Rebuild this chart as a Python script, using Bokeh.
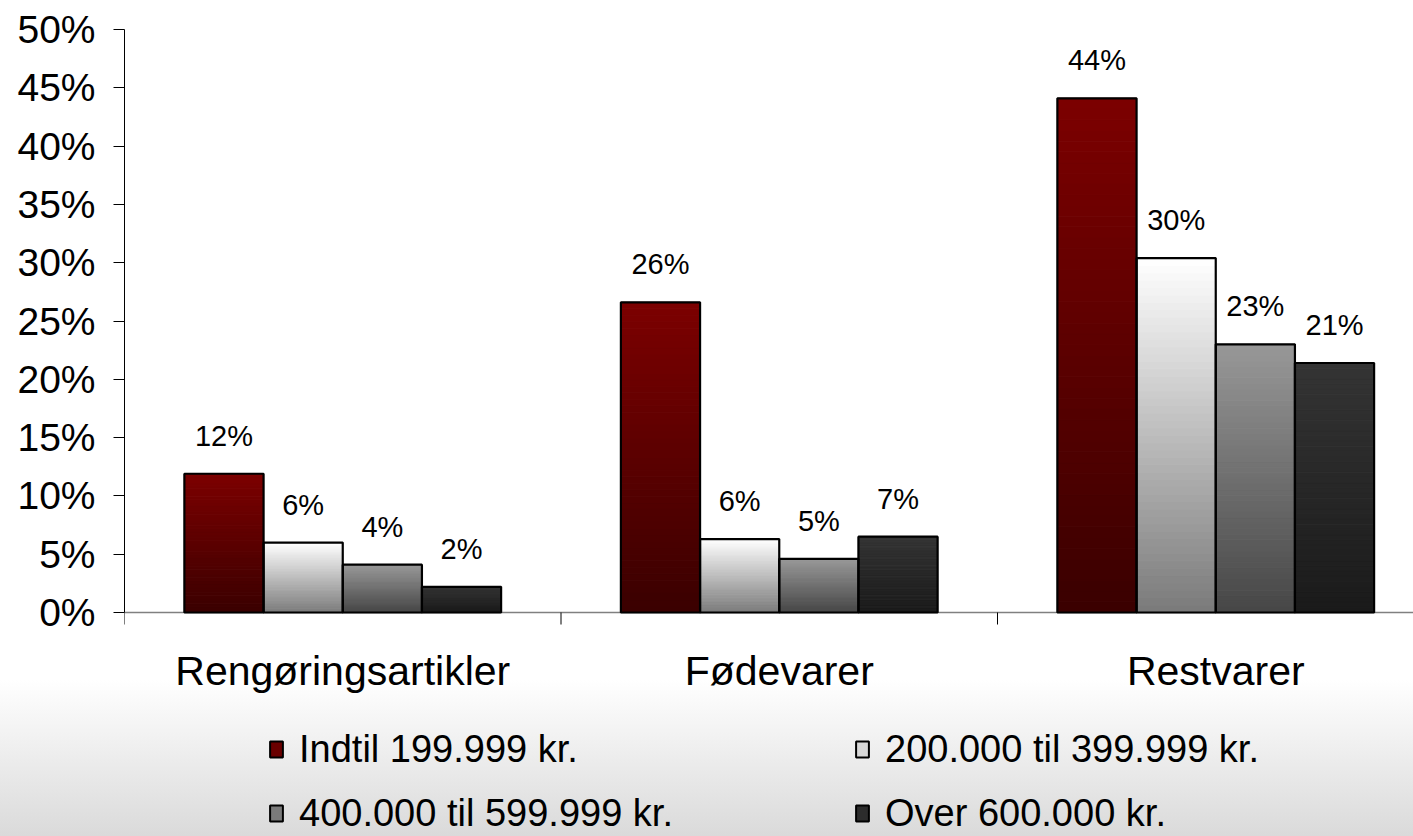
from bokeh.plotting import figure
from bokeh.models import Range1d, FixedTicker, Legend, LegendItem, Span
from bokeh.embed import file_html
from bokeh.resources import INLINE
from bokeh.core.properties import value

# ---------------- data ----------------
categories = ["Rengøringsartikler", "Fødevarer", "Restvarer"]
series_names = ["Indtil 199.999 kr.", "200.000 til 399.999 kr.",
                "400.000 til 599.999 kr.", "Over 600.000 kr."]
indtil_199999 = [11.9, 26.6, 44.1]
til_399999 = [6.0, 6.3, 30.4]
til_599999 = [4.1, 4.6, 23.0]
over_600000 = [2.2, 6.5, 21.4]
labels_indtil_199999 = ["12%", "26%", "44%"]
labels_til_399999 = ["6%", "6%", "30%"]
labels_til_599999 = ["4%", "5%", "23%"]
labels_over_600000 = ["2%", "7%", "21%"]
y_ticks = [0, 5, 10, 15, 20, 25, 30, 35, 40, 45, 50]
y_tick_labels = ["0%", "5%", "10%", "15%", "20%", "25%", "30%", "35%", "40%", "45%", "50%"]

series_values = [indtil_199999, til_399999, til_599999, over_600000]
series_labels = [labels_indtil_199999, labels_til_399999, labels_til_599999, labels_over_600000]

# gradient colours (top, bottom) per series
top_cols = [(124, 0, 0), (255, 255, 255), (152, 152, 152), (52, 52, 52)]
bot_cols = [(58, 0, 0), (122, 122, 122), (70, 70, 70), (26, 26, 26)]
legend_cols = ["#6a0000", "#d8d8d8", "#7a7a7a", "#2c2c2c"]

FONT = value("Liberation Sans")
W = 1413
H = 836
LEFT = 124          # frame left (px)
TOP = 29            # y = 50% (px)
ZERO_Y = 612        # y = 0% (px)
CAT_W = 436.5       # px per category
BW = 0.1814
N = 48
Y_MAX = 50
PX_PER_UNIT = (ZERO_Y - TOP) / Y_MAX
Y_MIN = -(H - ZERO_Y) / PX_PER_UNIT   # frame reaches the bottom of the picture


def lerp(c0, c1, t):
    return "#%02x%02x%02x" % tuple(int(round(a + (b - a) * t)) for a, b in zip(c0, c1))


p = figure(width=W, height=H, output_backend="svg", toolbar_location=None,
           x_range=Range1d(0, (W - LEFT) / CAT_W), y_range=Range1d(Y_MIN, Y_MAX),
           x_axis_type=None,
           min_border_left=LEFT, min_border_right=0, min_border_top=TOP,
           min_border_bottom=0,
           styles={"background": "linear-gradient(to bottom, #ffffff 0px, #ffffff 680px, #dadada 836px)"})
p.grid.visible = False
p.outline_line_color = None
p.background_fill_alpha = 0
p.border_fill_alpha = 0

# category axis line (at 0%) and boundary ticks
p.add_layout(Span(location=0, dimension="width", line_color="#808080", line_width=1.5,
                  level="underlay"))
bounds = [0, 1, 2]
p.segment(x0=bounds, x1=bounds, y0=[0] * 3, y1=[-12 / PX_PER_UNIT] * 3,
          line_color="black", line_width=1)

# gradient bars (slices) + outlines
xs, bots, tops, cols = [], [], [], []
for i, vals in enumerate(series_values):
    for j, v in enumerate(vals):
        xc = j + 0.5 + (i - 1.5) * BW
        for k in range(N):
            xs.append(xc)
            bots.append(v * k / N)
            tops.append(v * (k + 1) / N)
            cols.append(lerp(bot_cols[i], top_cols[i], (k + 0.5) / N))
p.vbar(x=xs, bottom=bots, top=tops, width=BW, fill_color=cols, line_color=cols, line_width=1)

for i, vals in enumerate(series_values):
    centers = [j + 0.5 + (i - 1.5) * BW for j in range(len(vals))]
    p.vbar(x=centers, top=vals, bottom=0, width=BW, fill_alpha=0,
           line_color="black", line_width=2.2)
    p.text(x=centers, y=vals, text=series_labels[i], text_align="center",
           text_baseline="alphabetic", y_offset=-38, text_font=FONT,
           text_font_size="29px", text_color="black")

# category labels
cat_x = [j + 0.5 for j in range(len(categories))]
p.text(x=cat_x, y=[0] * len(categories), text=categories, text_align="center",
       text_baseline="alphabetic", y_offset=58, text_font=FONT,
       text_font_size="41px", text_color="black")

# y axis
p.yaxis.ticker = FixedTicker(ticks=y_ticks)
p.yaxis.bounds = (0, Y_MAX)
p.yaxis.major_label_overrides = {t: l for t, l in zip(y_ticks, y_tick_labels)}
p.yaxis.axis_line_color = "black"
p.yaxis.axis_line_width = 1
p.yaxis.major_tick_out = 11
p.yaxis.major_tick_in = 0
p.yaxis.major_tick_line_color = "black"
p.yaxis.minor_tick_line_color = None
p.yaxis.major_label_standoff = 18
p.yaxis.major_label_text_font = "Liberation Sans"
p.yaxis.major_label_text_font_size = "39px"
p.yaxis.major_label_text_color = "black"

# ---------------- legend (two columns below the chart) ----------------
dummies = []
for i in range(4):
    r = p.rect(x=[-50], y=[-500], width=0.01, height=0.01, fill_color=legend_cols[i],
               line_color="black", line_width=2)
    dummies.append(r)


def make_legend(idx, loc):
    return Legend(items=[LegendItem(label=series_names[k], renderers=[dummies[k]]) for k in idx],
                  location=loc, orientation="vertical", padding=0, margin=0, spacing=20,
                  background_fill_alpha=0, border_line_alpha=0,
                  glyph_width=16, glyph_height=20, label_height=44, label_standoff=15,
                  label_text_font="Liberation Sans", label_text_font_size="38px",
                  label_text_color="black")


p.add_layout(make_legend([0, 2], (268 - LEFT, 1)))
p.add_layout(make_legend([1, 3], (854 - LEFT, 1)))

open("out.html", "w").write(file_html(p, INLINE))
